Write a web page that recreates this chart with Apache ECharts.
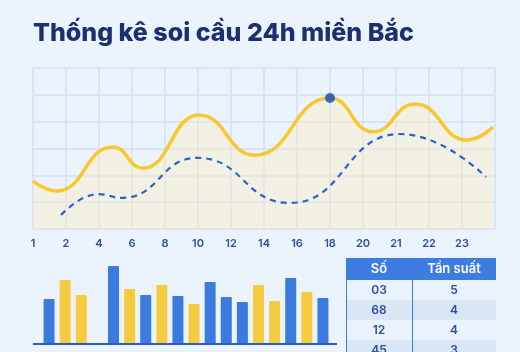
<!DOCTYPE html>
<html>
<head>
<meta charset="utf-8">
<script src="https://cdn.jsdelivr.net/npm/echarts@6/dist/echarts.min.js"></script>
<style>
    html, body { margin: 0; padding: 0; background: #ebf3fd; }
    #chart { width: 520px; height: 352px; }
</style>
</head>
<body>
<div id="chart"></div>
<script>
// x axis labels (one per grid column)
const hourLabels = ['1', '2', '4', '6', '8', '10', '12', '14', '16', '18', '20', '21', '22', '23', ''];

// [position on axis, value] for the two curves
const yellowPts = [[0, 17.9], [0.73, 14.2], [2.42, 30.6], [3.33, 22.7], [5.03, 42.5], [6.72, 27.5],
    [9.0, 48.8], [10.3, 36.2], [11.58, 46.6], [13.15, 33.2], [13.94, 38.0]];
const bluePts = [[0.85, 5.2], [1.98, 13.0], [2.7, 11.6], [4.98, 26.5], [7.79, 9.7], [11.12, 35.4], [13.73, 19.4]];
const peakIndex = 6;

// bottom bars, '-' = no bar in that slot
const blueBars = [44, '-', '-', '-', 77, '-', 48, '-', 47, '-', 61, 46, 41, '-', '-', 65, '-', 45];
const yellowBars = ['-', 63, 48, '-', '-', 54, '-', 58, '-', 39, '-', '-', '-', 58, 42, '-', 51, '-'];

// table
const tableHead = ['Số', 'Tần suất'];
const tableNums = ['03', '68', '12', '45'];
const tableFreq = ['5', '4', '4', '3'];

const chart = echarts.init(document.getElementById('chart'));

const tableGraphic = [];
const tx = 346, tw = 150, colX = 412, headY = 258, headH = 22, rowH = 20;
tableGraphic.push({
    type: 'rect', shape: { x: tx, y: headY, width: tw, height: headH },
    style: { fill: '#3d7ce0' }
});
tableHead.forEach((t, i) => {
    tableGraphic.push({
        type: 'text', x: i === 0 ? (tx + colX) / 2 : (colX + tx + tw) / 2, y: headY + headH / 2,
        style: { text: t, fill: '#ffffff', font: '600 13px Inter', align: 'center', verticalAlign: 'middle' }
    });
});
tableNums.forEach((n, i) => {
    const y = headY + headH + i * rowH;
    tableGraphic.push({
        type: 'rect', shape: { x: tx, y: y, width: tw, height: rowH },
        style: { fill: i % 2 === 0 ? '#eaf3fd' : '#d9e6f6' }
    });
    tableGraphic.push({
        type: 'text', x: (tx + colX) / 2, y: y + rowH / 2,
        style: { text: n, fill: '#2c4f96', font: '600 12px Inter', align: 'center', verticalAlign: 'middle' }
    });
    tableGraphic.push({
        type: 'text', x: (colX + tx + tw) / 2, y: y + rowH / 2,
        style: { text: tableFreq[i], fill: '#2c4f96', font: '600 12px Inter', align: 'center', verticalAlign: 'middle' }
    });
});
tableGraphic.push({ type: 'line', shape: { x1: tx + 0.5, y1: headY, x2: tx + 0.5, y2: 352 }, style: { stroke: '#3d7ce0', lineWidth: 1 } });
tableGraphic.push({ type: 'line', shape: { x1: colX + 0.5, y1: headY, x2: colX + 0.5, y2: 352 }, style: { stroke: '#3d7ce0', lineWidth: 1 } });

chart.setOption({
    backgroundColor: '#ebf3fd',
    animation: false,
    title: {
        text: 'Thống kê soi cầu 24h miền Bắc',
        left: 28,
        top: 16,
        textStyle: { fontFamily: 'Inter', fontWeight: 800, fontSize: 25, color: '#1c2f6e' }
    },
    grid: [
        { left: 33, right: 25, top: 68, bottom: 123 },
        { left: 41, right: 189, top: 263, bottom: 9 }
    ],
    xAxis: [
        {
            gridIndex: 0,
            type: 'value',
            min: 0,
            max: 14,
            interval: 1,
            axisLine: { show: false },
            axisTick: { show: false },
            splitLine: { lineStyle: { color: '#d2e1f4', width: 1.5 } },
            axisLabel: {
                formatter: v => hourLabels[v] || '',
                color: '#2d4f9a',
                fontFamily: 'Inter',
                fontWeight: 600,
                fontSize: 11,
                margin: 9
            }
        },
        {
            gridIndex: 1,
            type: 'category',
            data: blueBars.map((v, i) => i),
            axisLine: { show: false },
            axisTick: { show: false },
            axisLabel: { show: false }
        }
    ],
    yAxis: [
        {
            gridIndex: 0,
            type: 'value',
            min: 0,
            max: 60,
            interval: 10,
            axisLine: { show: false },
            axisTick: { show: false },
            axisLabel: { show: false },
            splitLine: { lineStyle: { color: '#d2e1f4', width: 1.5 } }
        },
        {
            gridIndex: 1,
            type: 'value',
            min: 0,
            max: 80,
            show: false,
            splitLine: { show: false }
        }
    ],
    series: [
        {
            type: 'line',
            xAxisIndex: 0,
            yAxisIndex: 0,
            data: yellowPts,
            smooth: 0.5,
            smoothMonotone: 'x',
            showSymbol: false,
            lineStyle: { color: '#f9c72e', width: 3.5 },
            areaStyle: { color: 'rgba(255, 236, 188, 0.55)' },
            z: 2
        },
        {
            type: 'line',
            xAxisIndex: 0,
            yAxisIndex: 0,
            data: bluePts,
            smooth: 0.5,
            smoothMonotone: 'x',
            showSymbol: false,
            lineStyle: { color: '#2a63cc', width: 2.2, type: [6, 5] },
            z: 3
        },
        {
            type: 'scatter',
            xAxisIndex: 0,
            yAxisIndex: 0,
            data: [yellowPts[peakIndex]],
            symbolSize: 10,
            itemStyle: { color: '#0c47bd' },
            z: 4
        },
        {
            type: 'bar',
            xAxisIndex: 1,
            yAxisIndex: 1,
            data: blueBars,
            barWidth: 11,
            barGap: '-100%',
            itemStyle: { color: '#3b7be0', borderRadius: [1, 1, 0, 0] }
        },
        {
            type: 'bar',
            xAxisIndex: 1,
            yAxisIndex: 1,
            data: yellowBars,
            barWidth: 11,
            itemStyle: { color: '#f7cb40', borderRadius: [1, 1, 0, 0] }
        }
    ],
    graphic: [
        {
            type: 'rect',
            shape: { x: 33, y: 343, width: 304, height: 2 },
            style: { fill: '#2f5cb8' },
            z: 10
        }
    ].concat(tableGraphic)
});
</script>
</body>
</html>
